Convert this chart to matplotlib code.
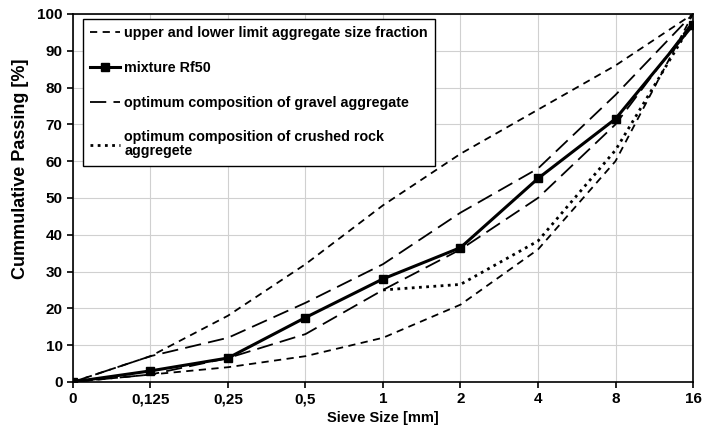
import numpy as np
import matplotlib
matplotlib.use('Agg')
import matplotlib.pyplot as plt

plt.rcParams['font.family'] = ['Liberation Sans', 'DejaVu Sans']
plt.rcParams['font.weight'] = 'bold'

# Data
sieve_labels = ['0', '0,125', '0,25', '0,5', '1', '2', '4', '8', '16']
upper_limit = [0, 7, 18, 32, 48, 62, 74, 86, 100]
lower_limit = [0, 2, 4, 7, 12, 21, 36, 60, 100]
mixture_rf50 = [0, 3, 6.5, 17.5, 28, 36.5, 55.3, 71.5, 97]
gravel_upper = [0, 7, 12, 21.5, 32, 46, 58, 78, 100]
gravel_lower = [0, 2, 6.5, 13, 25, 36, 50, 70, 98]
crushed_rock = [np.nan, np.nan, np.nan, np.nan, 25, 26.5, 38.3, 63, 98]

x = np.arange(len(sieve_labels))

fig = plt.figure(figsize=(7.05, 4.36), dpi=100)
ax = fig.add_axes([0.1035, 0.124, 0.8795, 0.844])

short = (0, (4, 3))
long_ = (0, (9, 4))

ax.plot(x, upper_limit, color='black', lw=1.3, linestyle=short,
        label='upper and lower limit aggregate size fraction')
ax.plot(x, lower_limit, color='black', lw=1.3, linestyle=short)
ax.plot(x, mixture_rf50, color='black', lw=2.2, marker='s', markersize=6,
        label='mixture Rf50')
ax.plot(x, gravel_upper, color='black', lw=1.3, linestyle=long_,
        label='optimum composition of gravel aggregate')
ax.plot(x, gravel_lower, color='black', lw=1.3, linestyle=long_)
ax.plot(x, crushed_rock, color='black', lw=2, linestyle=(0, (1, 1.6)),
        label='optimum composition of crushed rock\naggregete')

ax.set_xlim(0, 8)
ax.set_ylim(0, 100)
ax.set_xticks(x)
ax.set_xticklabels(sieve_labels)
ax.set_yticks(np.arange(0, 101, 10))
ax.tick_params(axis='both', labelsize=11, direction='out', length=4, width=1.2)
ax.grid(True, color='#d0d0d0', lw=0.8)
ax.set_axisbelow(True)
for sp in ax.spines.values():
    sp.set_linewidth(1.2)

ax.set_xlabel('Sieve Size [mm]', fontsize=10.5, fontweight='bold', labelpad=3)
ax.set_ylabel('Cummulative Passing [%]', fontsize=13, fontweight='bold')
ax.yaxis.set_label_coords(-0.071, 0.58)

leg = ax.legend(loc='upper left', bbox_to_anchor=(0.016, 0.986), fontsize=10.3,
                frameon=True, fancybox=False, edgecolor='black', framealpha=1,
                handlelength=2.1, handletextpad=0.3, labelspacing=1.45,
                borderpad=0.5, borderaxespad=0)
leg.get_frame().set_linewidth(1.0)
leg.get_texts()[3].set_linespacing(1.0)

fig.savefig('out.png', dpi=100)
